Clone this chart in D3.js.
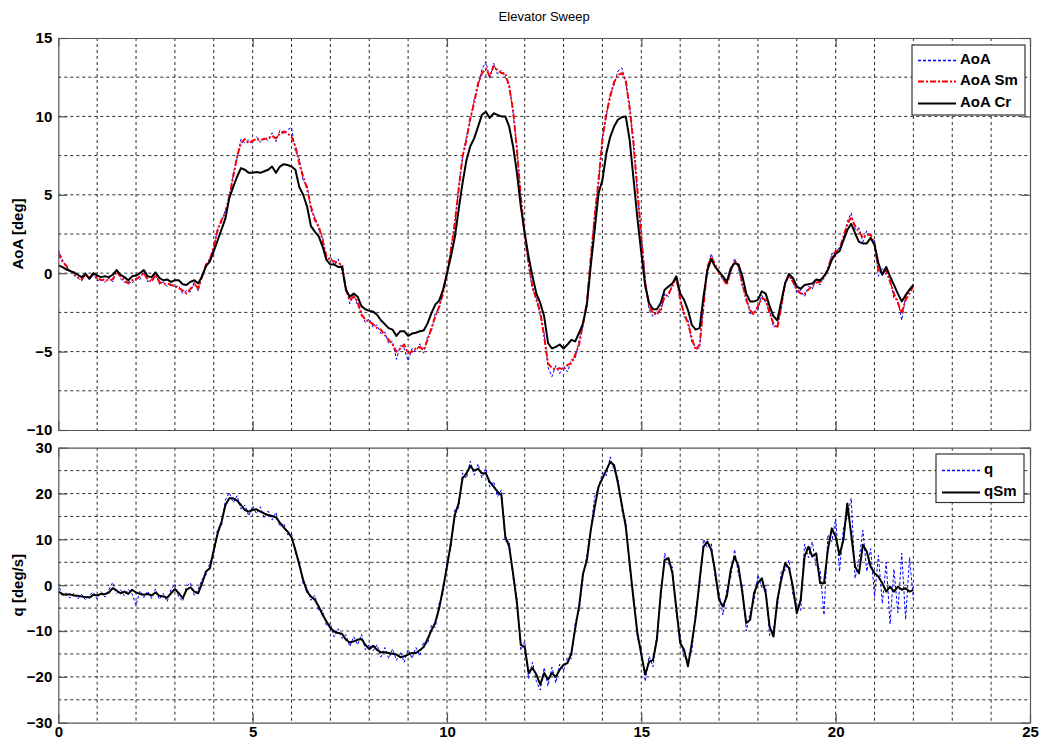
<!DOCTYPE html>
<html>
<head>
<meta charset="utf-8">
<script src="https://cdn.jsdelivr.net/npm/d3@7"></script>
<style>
  body { margin: 0; background: #fff; }
  svg { display: block; }
  text { font-family: Arial, "Liberation Sans", sans-serif; fill: #000; }
</style>
</head>
<body>
<svg id="chart" width="1041" height="743"></svg>
<script>
// ---- Elevator sweep flight-test record, sampled every 0.1 s from 0 to 22 s ----
const sampleStep = 0.1;

// Angle of attack, raw vane signal [deg]
const aoaRaw = [
  1.5, 0.9, 0.35, 0.2, -0.15, -0.3, -0.5, 0.05, -0.45, 0.0,
  -0.5, -0.35, -0.6, -0.3, -0.55, 0.25, -0.35, -0.6, -0.5, -0.65,
  -0.3, -0.4, 0.15, -0.55, -0.4, 0.05, -0.7, -0.55, -0.85, -0.6,
  -0.95, -0.8, -1.3, -1.1, -1.2, -0.55, -1.15, -0.05, 0.4, 1.0,
  1.55, 2.9, 3.25, 4.05, 4.7, 6.35, 7.3, 8.55, 8.3, 8.5,
  8.3, 8.7, 8.35, 8.65, 8.45, 8.95, 8.4, 9.1, 8.85, 9.15,
  9.3, 7.8, 7.3, 5.9, 5.6, 4.0, 3.6, 2.8, 2.3, 0.8,
  1.05, 0.5, 0.9, 0.2, -0.85, -1.95, -1.35, -2.05, -2.5, -3.15,
  -2.9, -3.45, -3.3, -3.85, -3.75, -4.5, -4.35, -5.5, -4.6, -4.8,
  -5.6, -4.8, -5.0, -4.5, -5.1, -4.05, -3.7, -2.55, -2.3, -1.1,
  -0.2, 1.6, 3.0, 5.5, 7.3, 8.7, 9.7, 11.1, 11.9, 13.0,
  13.5, 12.4, 13.4, 12.7, 12.95, 12.5, 12.1, 10.2, 8.05, 4.7,
  2.55, 0.45, -1.05, -1.5, -2.7, -3.85, -6.0, -6.6, -5.9, -6.4,
  -5.9, -6.3, -5.5, -5.45, -4.3, -3.4, -1.7, 0.8, 3.8, 5.75,
  8.7, 10.0, 11.45, 12.0, 12.9, 13.1, 12.1, 10.7, 8.1, 5.1,
  2.5, -0.4, -2.35, -2.75, -2.4, -2.5, -1.3, -1.5, -0.6, -0.4,
  -1.5, -2.8, -3.0, -4.4, -4.7, -4.8, -1.9, 0.2, 1.25, 0.35,
  0.2, -0.5, -0.55, 0.0, 0.95, 0.35, -0.85, -1.5, -2.6, -2.45,
  -2.3, -1.4, -1.9, -2.35, -3.45, -3.3, -2.3, -0.45, -0.3, -0.35,
  -1.25, -1.1, -1.5, -0.85, -1.0, -0.4, -0.75, -0.1, 0.1, 1.25,
  1.2, 1.7, 2.15, 3.3, 3.85, 2.8, 2.9, 2.0, 2.7, 2.2,
  2.1, -0.2, 0.3, -0.1, -0.35, -1.6, -1.7, -3.0, -1.5, -1.1,
  -0.7
];

// Angle of attack, smoothed [deg]
const aoaSmooth = [
  1.3, 0.75, 0.5, 0.1, 0.05, -0.25, -0.4, -0.1, -0.3, -0.1,
  -0.3, -0.45, -0.4, -0.45, -0.4, 0.1, -0.2, -0.45, -0.65, -0.45,
  -0.4, -0.2, 0.0, -0.4, -0.55, -0.1, -0.55, -0.7, -0.65, -0.75,
  -0.8, -0.95, -1.1, -1.3, -1.0, -0.7, -0.95, -0.2, 0.55, 0.85,
  1.7, 2.75, 3.4, 3.85, 4.9, 6.15, 7.45, 8.3, 8.55, 8.3,
  8.45, 8.55, 8.5, 8.55, 8.6, 8.75, 8.6, 8.9, 9.05, 8.9,
  8.7, 8.1, 7.0, 6.15, 5.4, 4.25, 3.4, 3.0, 2.1, 1.05,
  0.85, 0.75, 0.65, 0.55, -1.05, -1.7, -1.5, -1.8, -2.65, -2.95,
  -3.1, -3.25, -3.5, -3.6, -3.95, -4.25, -4.55, -5.0, -4.8, -4.55,
  -5.1, -5.0, -4.8, -4.7, -4.9, -4.25, -3.5, -2.75, -2.1, -1.3,
  0.0, 1.4, 3.2, 5.3, 7.45, 8.5, 9.9, 10.85, 12.1, 12.75,
  13.05, 12.55, 13.2, 12.95, 12.75, 12.75, 11.9, 10.4, 7.85, 4.9,
  2.35, 0.65, -0.85, -1.7, -2.45, -4.05, -5.75, -6.05, -6.15, -6.05,
  -6.15, -5.85, -5.75, -5.2, -4.55, -3.2, -1.9, 1.0, 3.6, 5.95,
  8.5, 10.2, 11.25, 12.2, 12.65, 12.75, 12.3, 10.5, 8.3, 5.3,
  2.3, -0.6, -2.1, -2.55, -2.65, -2.25, -1.5, -1.3, -0.85, -0.2,
  -1.7, -2.55, -3.2, -4.15, -4.9, -4.55, -2.1, 0.4, 1.05, 0.55,
  0.0, -0.3, -0.75, 0.2, 0.75, 0.55, -0.65, -1.7, -2.35, -2.65,
  -2.1, -1.6, -1.7, -2.55, -3.2, -3.5, -2.1, -0.65, -0.1, -0.55,
  -1.05, -1.3, -1.3, -1.05, -0.8, -0.6, -0.55, -0.3, 0.3, 1.05,
  1.4, 1.5, 2.35, 3.1, 3.6, 3.0, 2.65, 2.25, 2.45, 2.45,
  1.9, 0.2, 0.0, 0.2, -0.55, -1.3, -1.9, -2.55, -1.7, -1.3,
  -0.8
];

// Angle of attack, corrected for upwash [deg]
const aoaCorrected = [
  0.5, 0.4, 0.25, 0.15, 0.05, -0.1, -0.25, -0.05, -0.35, 0.0,
  -0.15, -0.25, -0.2, -0.25, -0.1, 0.2, -0.1, -0.25, -0.45, -0.2,
  -0.15, 0.0, 0.2, -0.2, -0.25, 0.05, -0.3, -0.45, -0.4, -0.55,
  -0.45, -0.45, -0.7, -0.75, -0.55, -0.45, -0.65, -0.2, 0.45, 0.75,
  1.4, 2.1, 2.8, 3.5, 4.8, 5.5, 6.15, 6.7, 6.6, 6.4,
  6.4, 6.45, 6.4, 6.5, 6.6, 6.8, 6.4, 6.8, 6.95, 6.9,
  6.8, 6.6, 5.5, 5.0, 4.25, 3.0, 2.65, 2.35, 1.7, 0.85,
  0.55, 0.55, 0.4, 0.4, -1.05, -1.5, -1.3, -1.5, -2.1, -2.3,
  -2.4, -2.45, -2.65, -3.0, -3.25, -3.5, -3.6, -4.0, -3.7, -3.7,
  -4.0, -3.85, -3.8, -3.7, -3.65, -3.2, -2.55, -2.0, -1.75, -1.05,
  0.0, 1.05, 2.25, 4.05, 5.75, 7.2, 8.1, 8.6, 9.35, 10.1,
  10.3, 9.9, 10.2, 10.1, 10.0, 10.0, 9.35, 8.1, 6.4, 4.25,
  2.55, 1.05, -0.2, -1.3, -1.9, -2.75, -4.45, -4.8, -4.7, -4.55,
  -4.8, -4.55, -4.25, -4.35, -3.8, -3.2, -2.0, 0.5, 2.75, 5.1,
  5.95, 7.65, 8.7, 9.35, 9.8, 9.95, 10.0, 8.5, 6.0, 3.5,
  1.3, -0.8, -1.9, -2.3, -2.3, -1.9, -1.05, -0.85, -0.65, -0.2,
  -1.3, -1.7, -2.35, -3.3, -3.6, -3.5, -1.5, 0.2, 0.9, 0.4,
  0.1, -0.2, -0.55, 0.3, 0.65, 0.55, -0.2, -1.3, -1.8, -1.8,
  -1.7, -1.15, -1.3, -2.1, -2.75, -3.0, -1.8, -0.65, -0.05, -0.3,
  -0.85, -1.0, -0.75, -0.7, -0.65, -0.4, -0.45, -0.2, 0.2, 0.85,
  1.25, 1.4, 2.1, 2.75, 3.15, 2.55, 2.0, 1.9, 1.9, 2.25,
  1.8, 0.65, -0.1, 0.4, -0.2, -0.75, -1.3, -1.8, -1.4, -1.05,
  -0.75
];

// Pitch rate, raw gyro [deg/s]
const qRaw = [
  0.5, -2.5, -1.6, -2.8, -1.7, -3.0, -2.0, -3.2, -2.2, -1.5,
  -3.0, -1.4, -2.6, -1.0, 0.6, -1.8, -1.0, -2.3, -0.9, -1.9,
  -4.4, -1.2, -2.7, -1.3, -2.9, -0.8, -3.1, -1.8, -3.6, -1.0,
  0.3, -2.6, -3.5, -0.2, 0.5, -2.2, -0.9, 1.3, 2.2, 4.8,
  6.8, 12.4, 12.9, 18.6, 20.2, 18.0, 19.5, 16.6, 17.5, 15.1,
  17.3, 15.6, 17.1, 14.7, 16.2, 14.2, 15.9, 12.8, 13.5, 11.0,
  11.3, 7.0, 5.4, 0.3, -0.6, -3.3, -2.2, -5.6, -5.5, -8.9,
  -8.4, -11.3, -9.5, -11.6, -10.8, -13.4, -11.2, -13.0, -10.7, -14.1,
  -12.9, -14.3, -13.0, -15.7, -13.6, -16.0, -13.9, -16.4, -14.6, -16.8,
  -14.0, -16.0, -13.6, -15.4, -12.4, -12.9, -8.7, -9.2, -3.9, -1.8,
  5.3, 8.0, 16.4, 16.8, 24.5, 23.3, 27.1, 24.0, 26.5, 23.4,
  25.5, 21.4, 22.6, 19.3, 20.8, 9.5, 9.6, 1.5, -2.8, -14.2,
  -12.3, -20.4, -16.8, -21.0, -22.9, -18.0, -22.0, -17.9, -21.3, -17.2,
  -18.6, -15.8, -16.0, -8.2, -5.6, 1.6, 6.6, 12.2, 19.4, 21.3,
  24.6, 23.9, 28.0, 25.0, 23.4, 16.3, 14.0, 3.6, -2.0, -11.6,
  -14.0, -21.0, -15.5, -17.8, -10.7, -3.0, 7.0, 4.6, 4.0, -6.5,
  -11.0, -15.8, -16.2, -14.5, -5.3, -0.4, 10.0, 8.2, 9.2, 1.4,
  -1.8, -6.5, -1.0, 1.6, 7.8, 2.3, -0.2, -10.0, -6.0, -3.5,
  2.2, -0.5, 0.0, -11.0, -9.5, -5.0, 3.0, 3.2, 5.5, -2.2,
  -4.2, -5.5, 9.0, 6.0, 9.5, 4.0, 3.5, -6.5, 11.0, 9.5,
  14.5, 3.0, 12.5, 15.0, 19.0, 1.5, 5.5, 12.0, 3.0, 8.0,
  -2.5, 6.5, -4.0, 5.0, -8.5, 3.5, -6.0, 7.0, -7.5, 6.0,
  -3.0
];

// Pitch rate, smoothed [deg/s]
const qSmooth = [
  -1.4, -1.9, -2.1, -2.0, -2.25, -2.3, -2.45, -2.6, -2.7, -2.1,
  -2.25, -1.9, -1.95, -1.6, -0.65, -1.15, -1.75, -1.4, -1.9, -1.0,
  -1.6, -1.9, -2.1, -1.9, -2.25, -1.6, -2.3, -2.45, -2.75, -1.75,
  -0.85, -1.75, -2.85, -1.0, -0.45, -1.4, -1.75, 0.45, 3.0, 3.7,
  7.7, 11.3, 13.85, 17.5, 18.95, 18.95, 18.45, 17.5, 16.4, 16.05,
  16.4, 16.55, 16.05, 15.65, 15.3, 15.1, 14.8, 13.65, 12.6, 11.7,
  10.45, 7.7, 4.45, 1.15, -1.4, -2.45, -3.2, -4.65, -6.45, -7.9,
  -9.35, -10.1, -10.45, -10.6, -11.9, -12.5, -12.25, -11.9, -11.75, -13.0,
  -13.95, -13.2, -14.1, -14.65, -14.65, -14.8, -14.95, -15.15, -15.7, -15.5,
  -15.15, -14.8, -14.8, -14.2, -13.5, -11.75, -9.85, -8.1, -5.0, -0.65,
  4.05, 9.15, 15.3, 17.85, 23.3, 24.4, 26.0, 25.0, 25.4, 24.4,
  24.4, 22.55, 21.5, 20.4, 19.65, 10.6, 8.4, 2.6, -3.9, -13.0,
  -13.5, -19.15, -18.05, -19.5, -21.7, -19.15, -20.6, -19.15, -20.0, -18.45,
  -17.35, -17.0, -14.8, -9.35, -4.5, 2.5, 5.5, 12.0, 17.0, 21.5,
  23.3, 25.1, 26.9, 26.2, 22.2, 17.5, 12.75, 4.8, -3.2, -10.45,
  -15.15, -19.5, -16.7, -16.35, -11.9, -1.75, 5.5, 5.9, 2.6, -5.0,
  -12.6, -14.1, -17.7, -12.6, -6.8, 1.15, 8.4, 9.5, 7.7, 2.95,
  -3.2, -4.65, -2.45, 3.35, 6.25, 4.05, -1.75, -8.25, -7.55, -1.75,
  0.45, 1.5, -1.75, -9.0, -11.2, -3.2, 1.15, 4.8, 3.7, -0.3,
  -6.1, -3.2, 6.25, 8.4, 6.25, 6.95, 0.45, 0.45, 7.7, 12.4,
  10.6, 6.6, 9.9, 17.85, 11.05, 4.05, 2.6, 8.8, 7.35, 4.05,
  2.6, 1.9, 0.45, -1.4, -0.3, -1.4, -0.3, -1.0, -0.65, -1.4,
  -1.0
];

// Axis ticks and legend entries
const xTicks = [0, 5, 10, 15, 20, 25];
const aoaTicks = [-10, -5, 0, 5, 10, 15];
const qTicks = [-30, -20, -10, 0, 10, 20, 30];
const aoaLegend = ["AoA", "AoA Sm", "AoA Cr"];
const qLegend = ["q", "qSm"];

// ---- layout ----
const svg = d3.select("#chart");
const plotLeft = 58.3, plotRight = 1030;
const x = d3.scaleLinear().domain([0, 25]).range([plotLeft, plotRight]);

const styles = {
  raw:    { stroke: "#0000ff", width: 1,   dash: "3,2" },
  smooth: { stroke: "#ff0000", width: 2,   dash: "6,2,2,2" },
  solid:  { stroke: "#000000", width: 2,   dash: null }
};

const tOf = i => i * sampleStep;

function drawPanel(cfg) {
  const y = d3.scaleLinear().domain(cfg.domain).range([cfg.bottom, cfg.top]);
  const g = svg.append("g");
  const clipId = "clip-" + cfg.id;
  svg.append("defs").append("clipPath").attr("id", clipId)
    .append("rect").attr("x", plotLeft).attr("y", cfg.top)
    .attr("width", plotRight - plotLeft).attr("height", cfg.bottom - cfg.top);

  g.append("rect").attr("x", plotLeft).attr("y", cfg.top)
    .attr("width", plotRight - plotLeft).attr("height", cfg.bottom - cfg.top)
    .attr("fill", "#fff");

  // dashed grid
  const grid = g.append("g").attr("stroke", "#2b2b2b").attr("stroke-width", 1)
    .attr("stroke-dasharray", "3,3").attr("fill", "none");
  d3.range(1, 25).forEach(v => {
    grid.append("line").attr("x1", x(v)).attr("x2", x(v))
      .attr("y1", cfg.top).attr("y2", cfg.bottom);
  });
  d3.range(cfg.domain[0] + cfg.gridStep, cfg.domain[1] - 1e-9, cfg.gridStep).forEach(v => {
    grid.append("line").attr("x1", plotLeft).attr("x2", plotRight)
      .attr("y1", y(v)).attr("y2", y(v));
  });

  // data
  const lines = g.append("g").attr("clip-path", `url(#${clipId})`);
  cfg.series.forEach(s => {
    const st = styles[s.style];
    const line = d3.line().x((d, i) => x(tOf(i))).y(d => y(d));
    lines.append("path").datum(s.values)
      .attr("d", line).attr("fill", "none")
      .attr("stroke", st.stroke).attr("stroke-width", st.width)
      .attr("stroke-linejoin", "round")
      .attr("stroke-dasharray", st.dash);
  });

  // axes frame with inward major ticks
  const tickLen = 9;
  const axisLeft = d3.axisLeft(y).tickValues(cfg.ticks).tickSizeInner(-tickLen).tickSizeOuter(0).tickFormat(d3.format("d"));
  const axisRight = d3.axisRight(y).tickValues(cfg.ticks).tickSizeInner(-tickLen).tickSizeOuter(0).tickFormat("");
  const axisTop = d3.axisTop(x).tickValues(xTicks).tickSizeInner(-tickLen).tickSizeOuter(0).tickFormat("");
  const axisBottom = d3.axisBottom(x).tickValues(xTicks).tickSizeInner(-tickLen).tickSizeOuter(0)
    .tickFormat(cfg.showX ? d3.format("d") : "");

  const styleAxis = sel => {
    sel.selectAll("path.domain").attr("stroke", "#555").attr("stroke-width", 1.2);
    sel.selectAll(".tick line").attr("stroke", "#555").attr("stroke-width", 1.2);
    sel.selectAll(".tick text").attr("font-size", 15).attr("font-weight", "bold")
      .attr("font-family", "Arial, 'Liberation Sans', sans-serif").attr("fill", "#000");
  };
  const aL = svg.append("g").attr("transform", `translate(${plotLeft},0)`).call(axisLeft).call(styleAxis);
  aL.selectAll(".tick text").attr("x", -6);
  svg.append("g").attr("transform", `translate(${plotRight},0)`).call(axisRight).call(styleAxis);
  svg.append("g").attr("transform", `translate(0,${cfg.top})`).call(axisTop).call(styleAxis);
  const aB = svg.append("g").attr("transform", `translate(0,${cfg.bottom})`).call(axisBottom).call(styleAxis);
  aB.selectAll(".tick text").attr("y", 4);

  // y label
  svg.append("text")
    .attr("transform", `translate(19,${(cfg.top + cfg.bottom) / 2}) rotate(-90)`)
    .attr("text-anchor", "middle").attr("dominant-baseline", "middle")
    .attr("font-size", 15).attr("font-weight", "bold")
    .text(cfg.label);

  // legend
  const lg = svg.append("g");
  const L = cfg.legend;
  lg.append("rect").attr("x", L.x).attr("y", L.y).attr("width", L.w).attr("height", L.h)
    .attr("fill", "#fff").attr("stroke", "#333").attr("stroke-width", 1.2);
  cfg.series.forEach((s, i) => {
    const st = styles[s.style];
    const yy = Math.round(L.y + L.first + i * L.gap) + 0.5;
    lg.append("path")
      .attr("d", `M${L.x + 6},${yy}H${L.x + 44}`)
      .attr("fill", "none")
      .style("stroke", st.stroke)
      .style("stroke-width", s.style === "raw" ? 1.3 : st.width)
      .style("stroke-dasharray", st.dash);
    lg.append("text").attr("x", L.x + 48).attr("y", yy).attr("dominant-baseline", "middle")
      .attr("font-size", 15).attr("font-weight", "bold").text(s.name);
  });
}

svg.append("text").attr("x", (plotLeft + plotRight) / 2).attr("y", 18)
  .attr("text-anchor", "middle").attr("dominant-baseline", "middle")
  .attr("font-size", 13).text("Elevator Sweep");

drawPanel({
  id: "aoa", top: 38, bottom: 430, domain: [-10, 15], gridStep: 2.5, ticks: aoaTicks,
  label: "AoA [deg]", showX: false,
  series: [
    { name: aoaLegend[0], values: aoaRaw, style: "raw" },
    { name: aoaLegend[1], values: aoaSmooth, style: "smooth" },
    { name: aoaLegend[2], values: aoaCorrected, style: "solid" }
  ],
  legend: { x: 912, y: 45, w: 113, h: 70, first: 14.5, gap: 21.5 }
});

drawPanel({
  id: "q", top: 447.7, bottom: 722.7, domain: [-30, 30], gridStep: 5, ticks: qTicks,
  label: "q [deg/s]", showX: true,
  series: [
    { name: qLegend[0], values: qRaw, style: "raw" },
    { name: qLegend[1], values: qSmooth, style: "solid" }
  ],
  legend: { x: 936, y: 454, w: 88, h: 48.5, first: 15.5, gap: 22.5 }
});
</script>
</body>
</html>
